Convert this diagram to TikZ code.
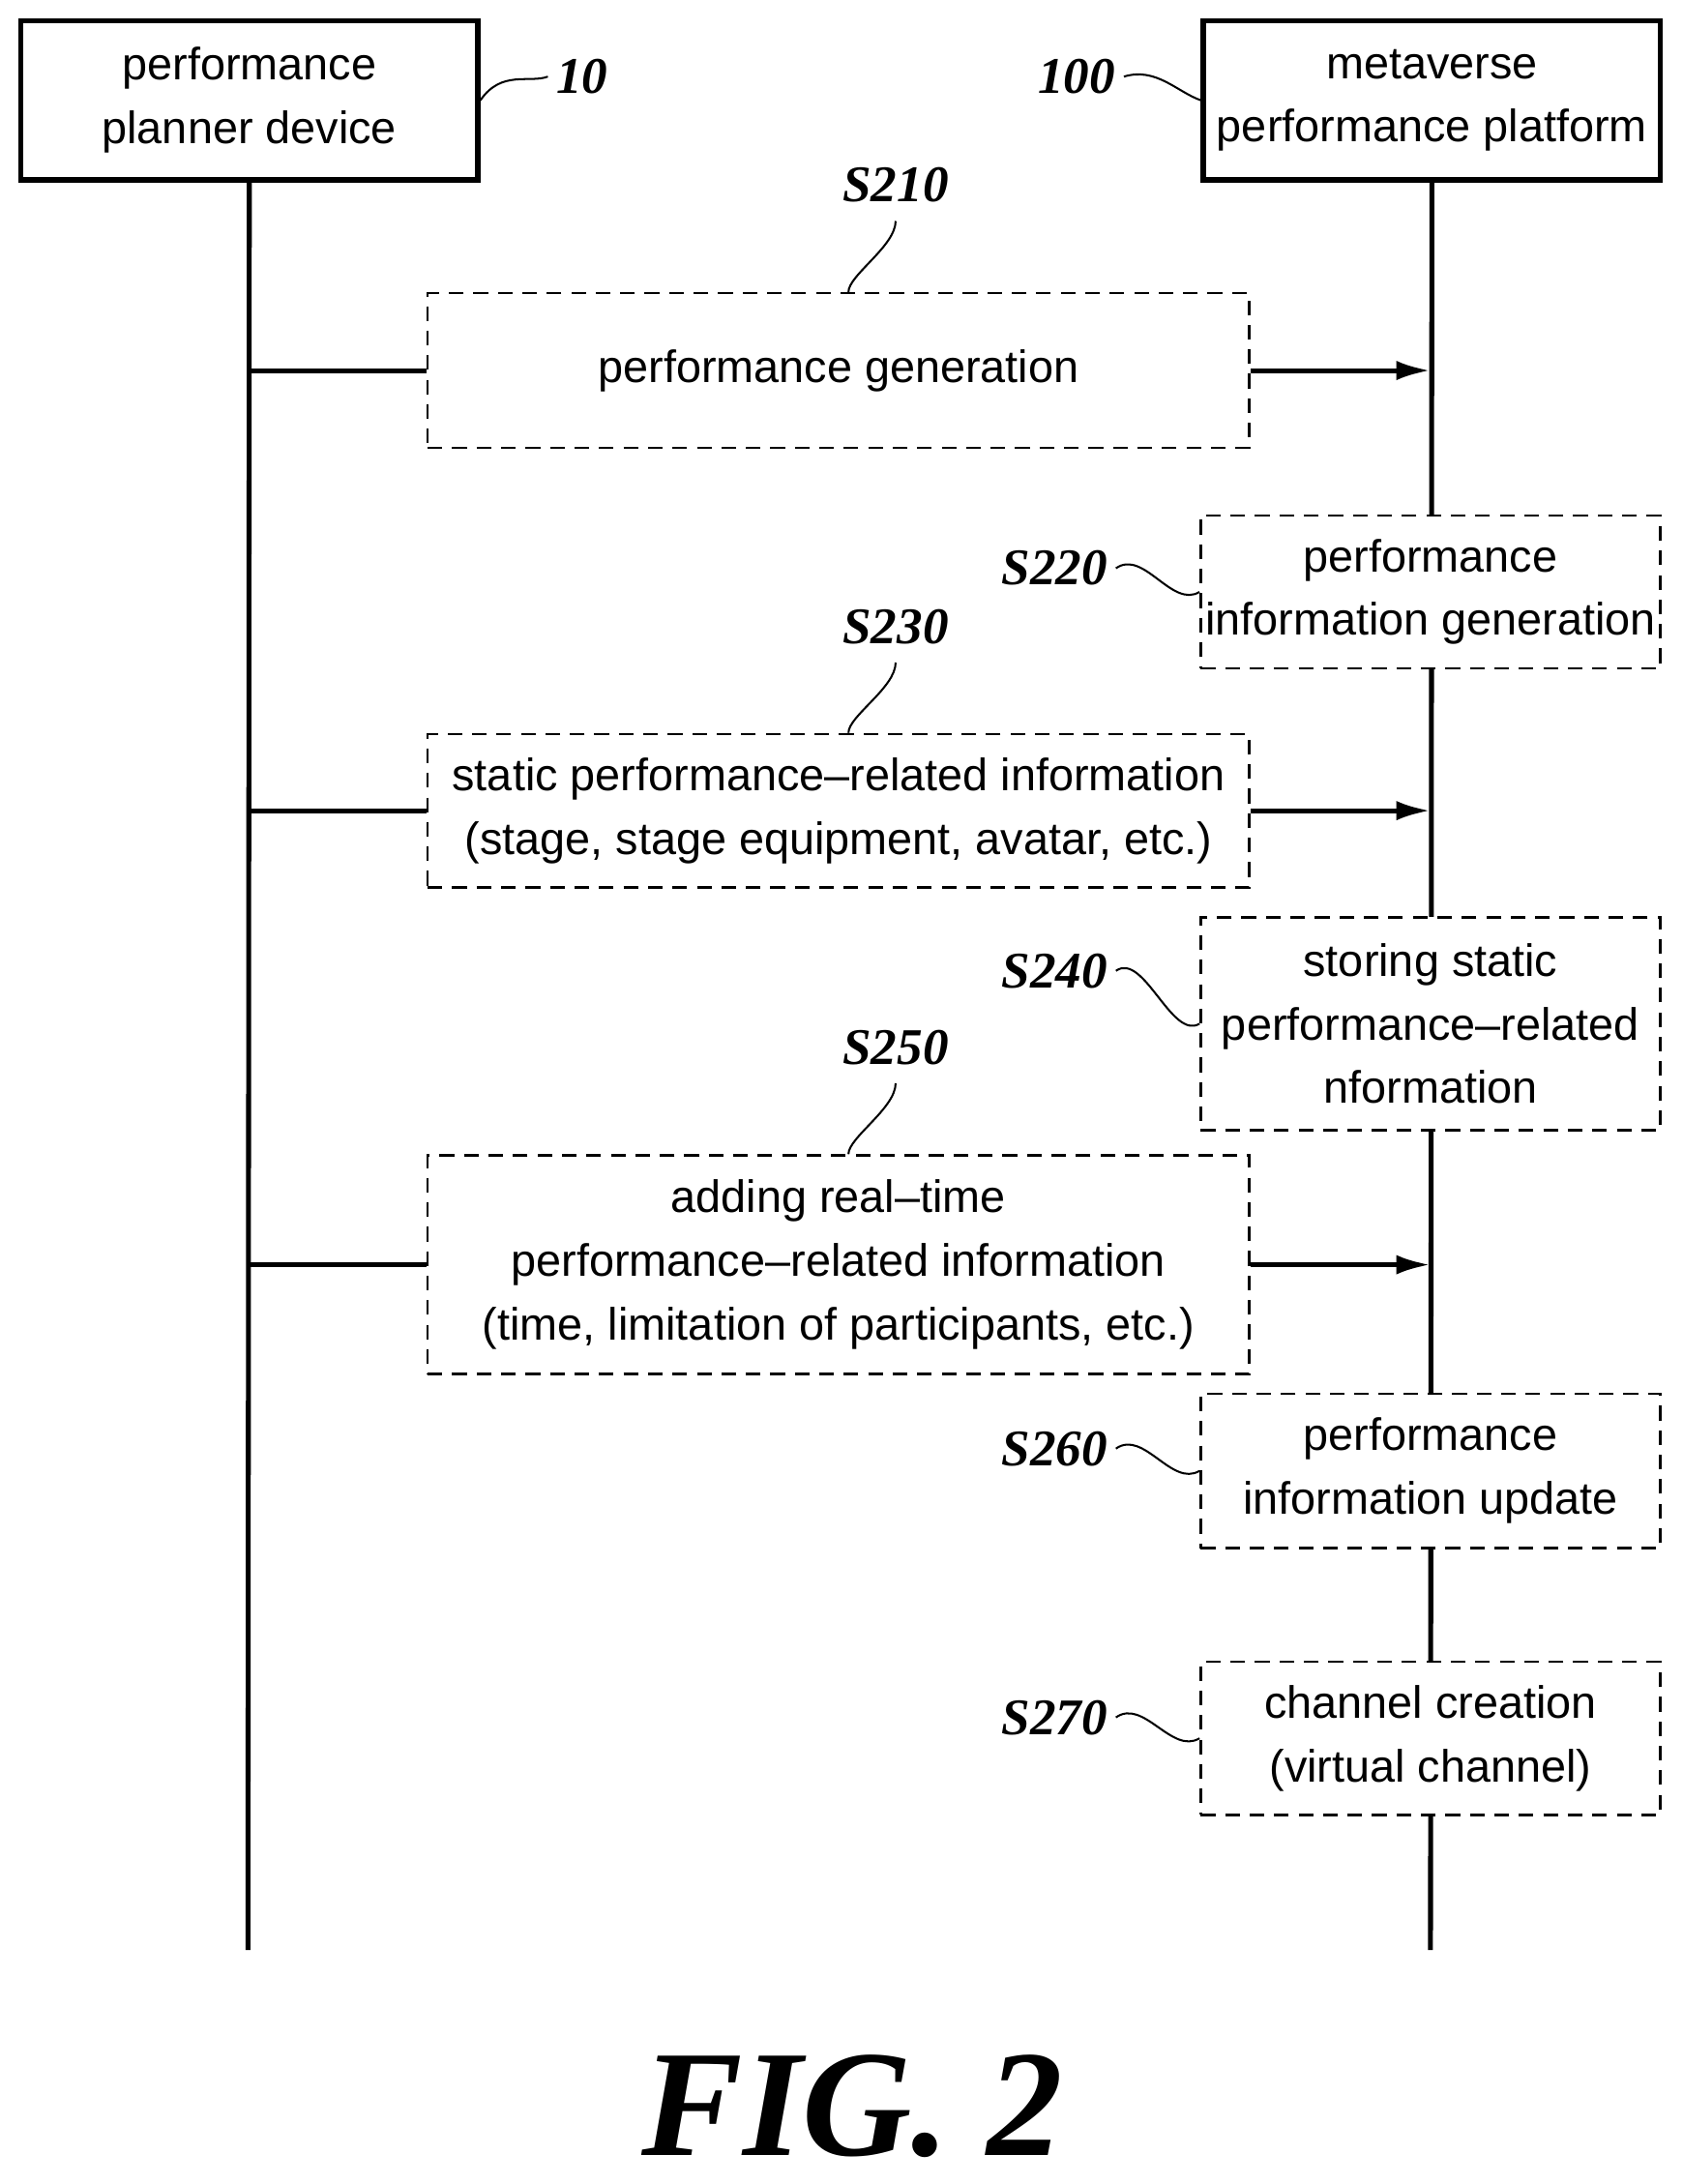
\documentclass[tikz,border=0pt]{standalone}
\usepackage{fontspec}
\setmainfont{Liberation Serif}
\setsansfont{Liberation Sans}
\usetikzlibrary{arrows.meta}
\tikzstyle{actor}   = [rectangle, draw=black, line width=2.2pt, minimum width=6.56cm, minimum height=2.28cm, inner sep=1pt, align=center, font=\sffamily\fontsize{18.5}{26}\selectfont]
\tikzstyle{stepbox} = [rectangle, draw=black, fill=white, dash pattern=on 6pt off 4pt, line width=1pt, inner sep=1pt, align=center, font=\sffamily\fontsize{18.5}{26}\selectfont]
\tikzstyle{steplbl} = [font=\bfseries\itshape\fontsize{21}{24}\selectfont]
\tikzstyle{life}    = [line width=2pt]
\tikzstyle{msg}     = [line width=2pt]
\begin{document}
\begin{tikzpicture}[x=0.02cm, y=-0.02cm]
        \useasboundingbox (0,0) rectangle (1208,1568);
        % actors
        \node (planner)  [actor] at (179,72)  {performance\\planner device};
        \node (platform) [actor] at (1028,72) {metaverse\\performance platform};
        \coordinate (pend) at (178,1400);
        \coordinate (mend) at (1027,1400);
        \draw[life] (planner.south)  -- (pend);
        \draw[life] (platform.south) -- (mend);
        \node (n10)  [steplbl] at (418,55) {10};
        \node (n100) [steplbl] at (773,55) {100};
        \draw[thick] (planner.east) .. controls (360,50) and (380,60) .. (n10.west);
        \draw[thick] (n100.east) .. controls (830,48) and (845,66) .. (platform.west);
        % steps on the planner side
        \node (s210) [stepbox, minimum width=11.8cm, minimum height=2.22cm] at (602,266) {performance generation};
        \node (s230) [stepbox, minimum width=11.8cm, minimum height=2.2cm]  at (602,582) {static performance--related information\\(stage, stage equipment, avatar, etc.)};
        \node (s250) [stepbox, minimum width=11.8cm, minimum height=3.14cm] at (602,908) {adding real--time\\performance--related information\\(time, limitation of participants, etc.)};
        % steps on the platform side
        \node (s220) [stepbox, minimum width=6.6cm, minimum height=2.2cm]  at (1027,425)  {performance\\information generation};
        \node (s240) [stepbox, minimum width=6.6cm, minimum height=3.06cm] at (1027,735)  {storing static\\performance--related\\nformation};
        \node (s260) [stepbox, minimum width=6.6cm, minimum height=2.22cm] at (1027,1056) {performance\\information update};
        \node (s270) [stepbox, minimum width=6.6cm, minimum height=2.2cm]  at (1027,1248) {channel creation\\(virtual channel)};
        % step labels
        \node (l210) [steplbl] at (643,133)  {S210};
        \node (l230) [steplbl] at (643,450)  {S230};
        \node (l250) [steplbl] at (643,752)  {S250};
        \node (l220) [steplbl] at (757,408)  {S220};
        \node (l240) [steplbl] at (757,697)  {S240};
        \node (l260) [steplbl] at (757,1040) {S260};
        \node (l270) [steplbl] at (757,1233) {S270};
        \foreach \l/\s in {l210/s210, l230/s230, l250/s250}
            \draw[thick] ([yshift=-4pt]\l.south) .. controls +(0,18) and +(0,-12) .. ([xshift=6.06cm]\s.north west);
        \foreach \l/\s in {l220/s220, l240/s240, l260/s260, l270/s270}
            \draw[thick] (\l.east) .. controls +(20,-14) and +(-20,12) .. (\s.west);
        % messages
        \foreach \s/\y in {s210/266, s230/582, s250/908} {
            \coordinate (\s from) at (178,\y);
            \coordinate (\s to)   at (1027,\y);
            \draw[msg] (\s from) -- (\s.west);
            \draw[msg, -{Latex[length=14pt,width=8pt]}] (\s.east) -- (\s to);
        }
        \node (fig) [font=\bfseries\itshape\fontsize{62}{70}\selectfont] at (612,1512) {FIG. 2};
    \end{tikzpicture}
\end{document}
